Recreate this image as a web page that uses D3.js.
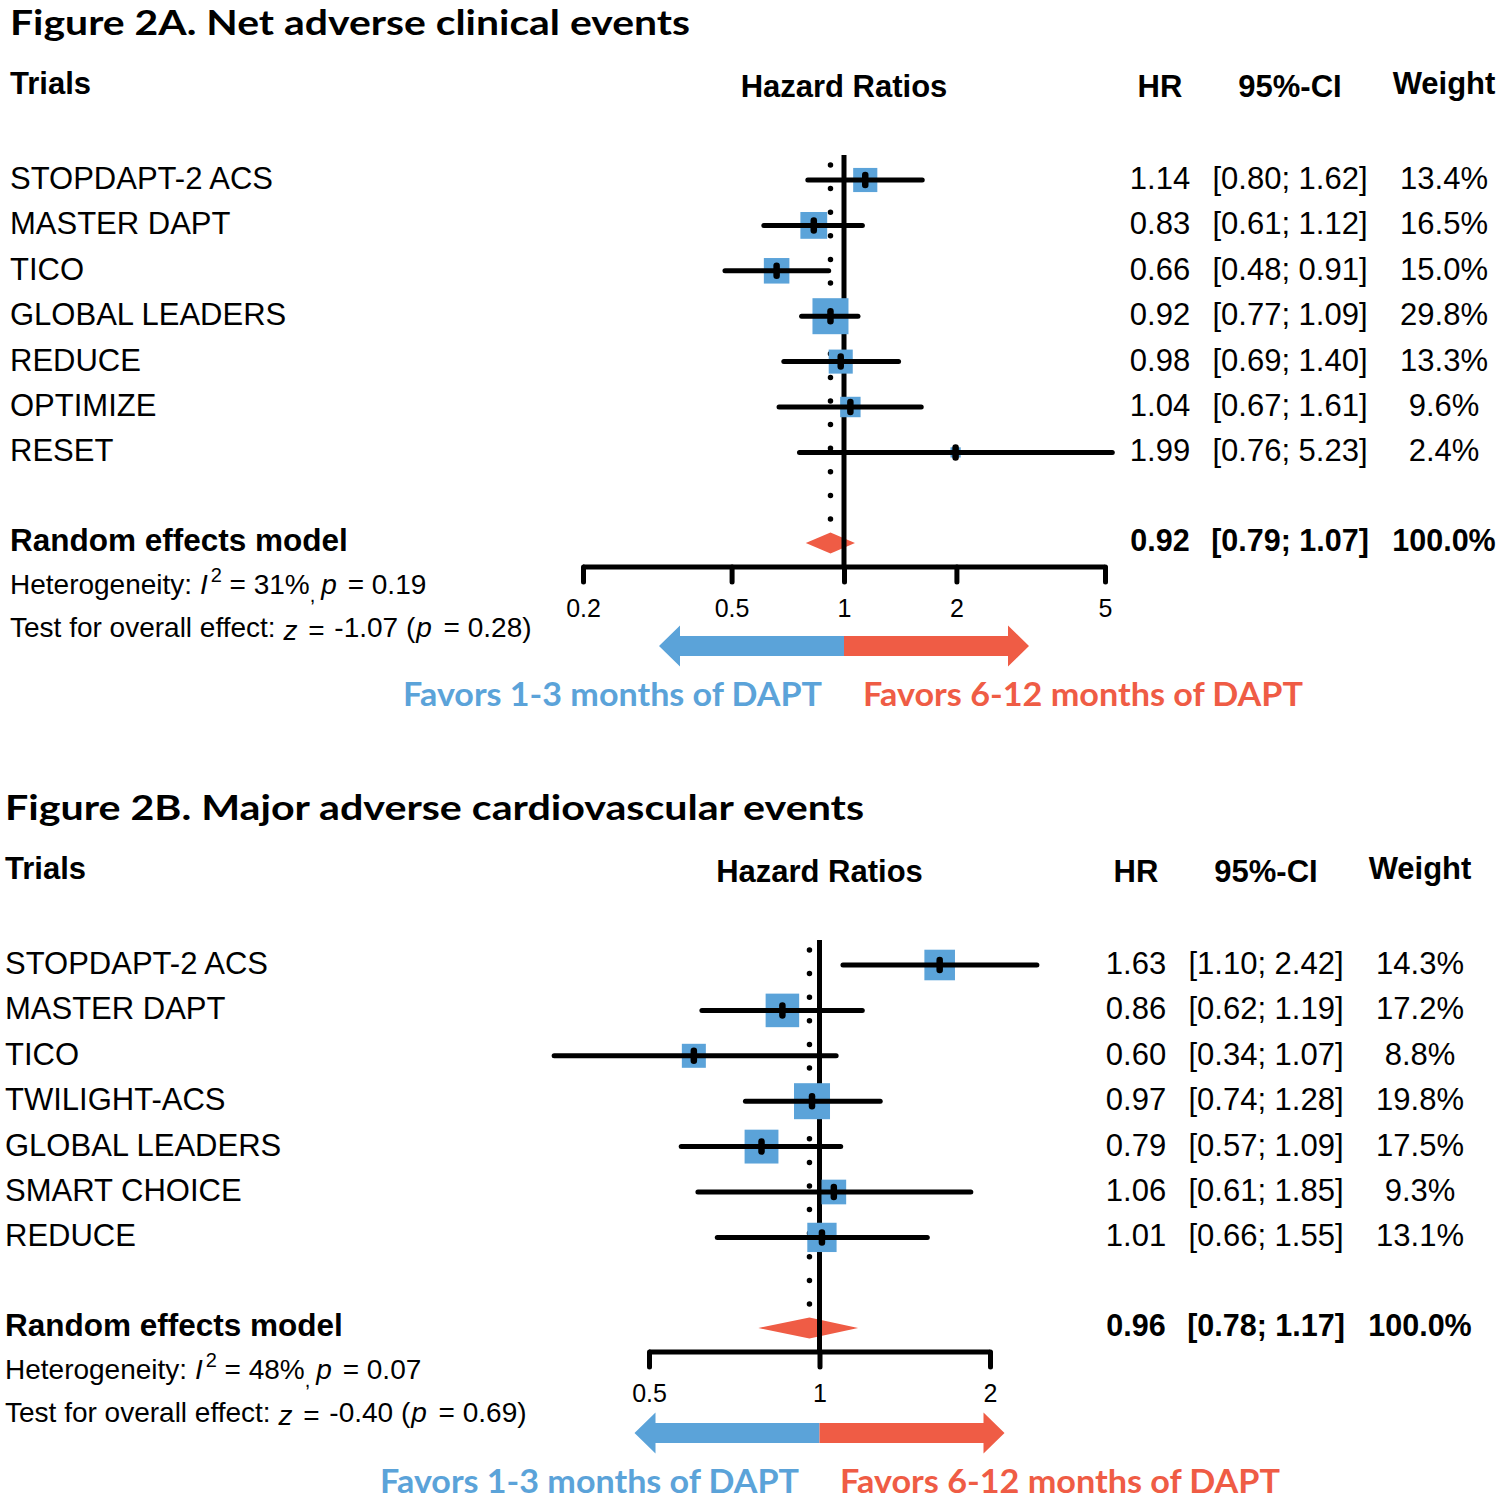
<!DOCTYPE html>
<html><head><meta charset="utf-8">
<script src="https://cdn.jsdelivr.net/npm/d3@7/dist/d3.min.js"></script>
<style>body{margin:0;background:#fff}svg{display:block}</style>
</head><body><svg id="c" width="1500" height="1501"></svg>
<script>
// ---------- Data: Figure 2A ----------
const titleA = "Figure 2A. Net adverse clinical events";
const trialsA = ["STOPDAPT-2 ACS","MASTER DAPT","TICO","GLOBAL LEADERS","REDUCE","OPTIMIZE","RESET"];
const hrA     = [1.14, 0.83, 0.66, 0.92, 0.98, 1.04, 1.99];
const lowerA  = [0.80, 0.61, 0.48, 0.77, 0.69, 0.67, 0.76];
const upperA  = [1.62, 1.12, 0.91, 1.09, 1.40, 1.61, 5.23];
const weightA = [13.4, 16.5, 15.0, 29.8, 13.3, 9.6, 2.4];
const summaryA = [0.92, 0.79, 1.07];       // HR, lower, upper
const hetA  = ["31%", "0.19"];             // I2, p
const testA = ["-1.07", "0.28"];           // z, p
const ticksA = [0.2, 0.5, 1, 2, 5];

// ---------- Data: Figure 2B ----------
const titleB = "Figure 2B. Major adverse cardiovascular events";
const trialsB = ["STOPDAPT-2 ACS","MASTER DAPT","TICO","TWILIGHT-ACS","GLOBAL LEADERS","SMART CHOICE","REDUCE"];
const hrB     = [1.63, 0.86, 0.60, 0.97, 0.79, 1.06, 1.01];
const lowerB  = [1.10, 0.62, 0.34, 0.74, 0.57, 0.61, 0.66];
const upperB  = [2.42, 1.19, 1.07, 1.28, 1.09, 1.85, 1.55];
const weightB = [14.3, 17.2, 8.8, 19.8, 17.5, 9.3, 13.1];
const summaryB = [0.96, 0.78, 1.17];
const hetB  = ["48%", "0.07"];
const testB = ["-0.40", "0.69"];
const ticksB = [0.5, 1, 2];

const favorLabels = ["Favors 1-3 months of DAPT", "Favors 6-12 months of DAPT"];

// ---------- Styling ----------
const BLUE = "#5BA3D9", RED = "#EF5C45";
const ARIAL = "'Liberation Sans', Arial, sans-serif";
const CAL = "Lato, 'Open Sans', sans-serif";

const svg = d3.select("#c");

function panel(cfg) {
  const g = svg.append("g").attr("transform", `translate(0,${cfg.dy})`);
  const x = d3.scaleLog().domain(cfg.domain).range(cfg.range);
  const rowY = d3.scaleLinear().domain([0, 1]).range([180, 180 + 45.4]);
  const maxW = d3.max(cfg.weight);
  const side = d => 36 * Math.sqrt(d / maxW);
  const n = cfg.trials.length;
  const sumY = 543, axisY = 567;

  // title
  g.append("text").attr("x", cfg.titleX).attr("y", 35)
    .attr("font-family", CAL).attr("font-weight", 700).attr("font-size", 35)
    .attr("textLength", cfg.titleLen).attr("lengthAdjust", "spacingAndGlyphs")
    .text(cfg.title);

  // headers
  const hdr = (t, xx, yy, anchor) => g.append("text").attr("x", xx).attr("y", yy)
    .attr("text-anchor", anchor).attr("font-family", ARIAL).attr("font-weight", 700)
    .attr("font-size", 31).text(t);
  hdr("Trials", cfg.nameX, 94, "start");
  hdr("Hazard Ratios", x(1), 97, "middle");
  hdr("HR", cfg.hrX, 97, "middle");
  hdr("95%-CI", cfg.ciX, 97, "middle");
  hdr("Weight", cfg.wX, 94, "middle");

  // diamond (summary)
  const [s, sl, su] = cfg.summary;
  g.append("path")
    .attr("d", `M${x(sl)},${sumY} L${x(s)},${sumY - 10.5} L${x(su)},${sumY} L${x(s)},${sumY + 10.5} Z`)
    .attr("fill", RED);

  // dotted line at summary estimate
  g.append("line").attr("x1", x(s)).attr("x2", x(s)).attr("y1", 165).attr("y2", 532)
    .attr("stroke", "#000").attr("stroke-width", 5.5).attr("stroke-linecap", "round")
    .attr("stroke-dasharray", "0 23.6");

  // line of no effect
  g.append("line").attr("x1", x(1)).attr("x2", x(1)).attr("y1", 155).attr("y2", axisY)
    .attr("stroke", "#000").attr("stroke-width", 5);

  // axis
  const axis = d3.axisBottom(x).tickValues(cfg.ticks).tickFormat(d => String(d))
    .tickSize(15).tickSizeOuter(0).tickPadding(17);
  const ag = g.append("g").attr("transform", `translate(0,${axisY})`).call(axis);
  ag.select(".domain").attr("stroke", "#000").attr("stroke-width", 5)
    .attr("d", `M${cfg.range[0]},0H${cfg.range[1]}`);
  ag.selectAll(".tick line").attr("stroke", "#000").attr("stroke-width", 5).attr("stroke-linecap", "round");
  ag.selectAll(".tick text").attr("font-family", ARIAL).attr("font-size", 25).attr("fill", "#000");

  // squares
  g.selectAll("rect.sq").data(d3.range(n)).enter().append("rect")
    .attr("x", i => x(cfg.hr[i]) - side(cfg.weight[i]) / 2)
    .attr("y", i => rowY(i) - side(cfg.weight[i]) / 2)
    .attr("width", i => side(cfg.weight[i]))
    .attr("height", i => side(cfg.weight[i]))
    .attr("fill", BLUE);

  // CI lines
  g.selectAll("line.ci").data(d3.range(n)).enter().append("line")
    .attr("x1", i => x(cfg.lower[i])).attr("x2", i => x(cfg.upper[i]))
    .attr("y1", i => rowY(i)).attr("y2", i => rowY(i))
    .attr("stroke", "#000").attr("stroke-width", 5).attr("stroke-linecap", "round");

  // point markers
  g.selectAll("line.pt").data(d3.range(n)).enter().append("line")
    .attr("x1", i => x(cfg.hr[i])).attr("x2", i => x(cfg.hr[i]))
    .attr("y1", i => rowY(i) - 5).attr("y2", i => rowY(i) + 5)
    .attr("stroke", "#000").attr("stroke-width", 6.5).attr("stroke-linecap", "round");

  // row texts
  const rowText = (acc, xx, anchor) => g.selectAll(null).data(d3.range(n)).enter().append("text")
    .attr("x", xx).attr("y", i => rowY(i) + 9).attr("text-anchor", anchor)
    .attr("font-family", ARIAL).attr("font-size", 31).text(acc);
  rowText(i => cfg.trials[i], cfg.nameX, "start");
  rowText(i => cfg.hr[i].toFixed(2), cfg.hrX, "middle");
  rowText(i => `[${cfg.lower[i].toFixed(2)}; ${cfg.upper[i].toFixed(2)}]`, cfg.ciX, "middle");
  rowText(i => cfg.weight[i].toFixed(1) + "%", cfg.wX, "middle");

  // summary row
  const sumText = (t, xx, anchor, fs) => g.append("text").attr("x", xx).attr("y", sumY + 8)
    .attr("text-anchor", anchor).attr("font-family", ARIAL).attr("font-weight", 700)
    .attr("font-size", fs).text(t);
  sumText("Random effects model", cfg.nameX, "start", 31.5);
  sumText(s.toFixed(2), cfg.hrX, "middle", 30.5);
  sumText(`[${sl.toFixed(2)}; ${su.toFixed(2)}]`, cfg.ciX, "middle", 30.5);
  sumText("100.0%", cfg.wX, "middle", 30.5);

  // heterogeneity
  const het = g.append("text").attr("x", cfg.nameX).attr("y", 594)
    .attr("font-family", ARIAL).attr("font-size", 28);
  het.append("tspan").text("Heterogeneity: ");
  het.append("tspan").attr("font-style", "italic").text("I");
  het.append("tspan").attr("font-size", 20).attr("dy", -12).attr("dx", 3).text("2");
  het.append("tspan").attr("dy", 12).text(` = ${cfg.het[0]}`);
  het.append("tspan").attr("font-size", 20).attr("dy", 8).text(",");
  het.append("tspan").attr("dy", -8).attr("dx", 6).attr("font-style", "italic").text("p");
  het.append("tspan").attr("dx", 3).text(` = ${cfg.het[1]}`);

  const tst = g.append("text").attr("x", cfg.nameX).attr("y", 637)
    .attr("font-family", ARIAL).attr("font-size", 28);
  tst.append("tspan").text("Test for overall effect: ");
  tst.append("tspan").attr("font-style", "italic").attr("dy", 3).text("z");
  tst.append("tspan").attr("dx", 3).text(" = ");
  tst.append("tspan").attr("dy", -3).attr("dx", 2).text(`${cfg.test[0]} (`);
  tst.append("tspan").attr("font-style", "italic").attr("dx", 1).text("p");
  tst.append("tspan").attr("dx", 4).text(` = ${cfg.test[1]})`);

  // arrows
  const aY = 646 + cfg.arrowDy, x1 = x(1), L = 185, hl = 21, hh = 20.5, sh = 10;
  g.append("path").attr("fill", BLUE)
    .attr("d", `M${x1},${aY - sh} H${x1 - L + hl} V${aY - hh} L${x1 - L},${aY} L${x1 - L + hl},${aY + hh} V${aY + sh} H${x1} Z`);
  g.append("path").attr("fill", RED)
    .attr("d", `M${x1},${aY - sh} H${x1 + L - hl} V${aY - hh} L${x1 + L},${aY} L${x1 + L - hl},${aY + hh} V${aY + sh} H${x1} Z`);

  // favors labels
  const fav = (t, xx, len, col) => g.append("text").attr("x", xx).attr("y", 706 + cfg.arrowDy)
    .attr("font-family", CAL).attr("font-weight", 700).attr("font-size", 32).attr("fill", col)
    .attr("textLength", len).attr("lengthAdjust", "spacingAndGlyphs").text(t);
  fav(favorLabels[0], cfg.favX[0], 419, BLUE);
  fav(favorLabels[1], cfg.favX[1], 440, RED);
}

panel({
  dy: 0, title: titleA, titleX: 10, titleLen: 680, nameX: 10,
  trials: trialsA, hr: hrA, lower: lowerA, upper: upperA, weight: weightA,
  summary: summaryA, het: hetA, test: testA, ticks: ticksA,
  domain: [0.2, 5], range: [583, 1105],
  hrX: 1160, ciX: 1290, wX: 1444, favX: [403, 863], arrowDy: 0
});
panel({
  dy: 785, title: titleB, titleX: 5, titleLen: 859, nameX: 5,
  trials: trialsB, hr: hrB, lower: lowerB, upper: upperB, weight: weightB,
  summary: summaryB, het: hetB, test: testB, ticks: ticksB,
  domain: [0.5, 2], range: [649, 990],
  hrX: 1136, ciX: 1266, wX: 1420, favX: [380, 840], arrowDy: 2
});
</script>
</body></html>
